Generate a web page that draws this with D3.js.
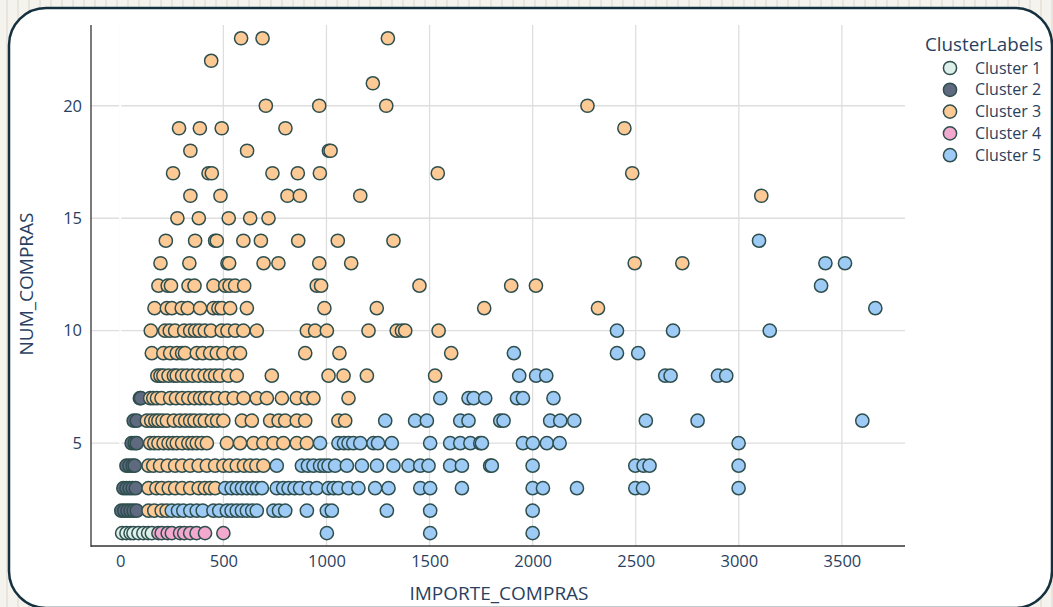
<!DOCTYPE html>
<html>
<head>
<meta charset="utf-8">
<script src="https://cdn.jsdelivr.net/npm/d3@7"></script>
<style>
html,body{margin:0;padding:0;background:#f4f1eb;}
svg{display:block;font-family:"Open Sans",sans-serif;}
</style>
</head>
<body>
<svg id="chart" width="1053" height="607"></svg>
<script>
// ---- data: [IMPORTE_COMPRAS, NUM_COMPRAS] per cluster ----
const clusterNames = ["Cluster 1","Cluster 2","Cluster 3","Cluster 4","Cluster 5"];
const clusterColors = ["#dcefe8","#5f6a80","#fdca96","#f3a9cd","#9dcbf6"];
const xTicks = [0,500,1000,1500,2000,2500,3000,3500];
const yTicks = [5,10,15,20];

const cluster1 = [[9,1],[30,1],[50,1],[64,1],[88,1],[112,1],[135,1],[153,1]];
const cluster2 = [
 [95,7],[100,7],[65,6],[80,6],[55,5],[70,5],[80,5],
 [30,4],[45,4],[60,4],[70,4],[15,3],[30,3],[45,3],[60,3],[75,3],
 [5,2],[20,2],[35,2],[50,2],[65,2],[80,2]];
const row = (y, xs) => xs.map(x => [x, y]);
const cluster3 = [].concat(
 row(23,[586,690,1298]), row(22,[441]), row(21,[1225]),
 row(20,[706,965,1290,2266]), row(19,[285,386,492,801,2445]),
 row(18,[340,615,1012,1020]), row(17,[256,428,444,738,861,968,1540,2483]),
 row(16,[340,486,811,871,1164,3109]), row(15,[277,381,526,630,719]),
 row(14,[221,363,460,468,597,682,863,1055,1325]),
 row(13,[195,335,520,528,695,767,965,1120,2495,2726]),
 row(12,[185,230,246,331,360,452,509,530,557,601,953,974,1451,1896,2016]),
 row(11,[166,226,250,298,327,387,452,476,492,533,614,990,1244,1765,2317]),
 row(10,[148,217,240,266,310,339,363,384,410,440,492,520,557,597,662,905,945,1002,1204,1341,1366,1382,1544]),
 row(9,[153,209,242,274,300,314,371,400,436,468,500,549,581,897,1063,1605]),
 row(8,[180,195,209,234,260,274,300,323,350,379,410,436,460,484,524,565,735,1010,1083,1196,1527]),
 row(7,[145,160,178,200,242,270,300,330,360,387,410,436,470,509,550,598,662,711,784,856,905,937,1107]),
 row(6,[129,150,170,185,205,226,260,290,315,339,360,387,410,444,470,500,590,638,727,768,800,856,897,1058,1091]),
 row(5,[145,165,185,210,234,255,274,300,330,350,371,395,420,517,581,646,694,743,791,856,905]),
 row(4,[137,160,193,230,266,300,339,380,420,460,500,530,565,600,630,660,694]),
 row(3,[137,175,201,235,266,300,339,380,410,436,460]),
 row(2,[137,165,201,225])
);
const cluster4 = [[185,1],[201,1],[230,1],[250,1],[290,1],[310,1],[339,1],[370,1],[411,1],[500,1]];
const cluster5 = [].concat(
 row(14,[3098]), row(13,[3420,3515]), row(12,[3399]), row(11,[3662]),
 row(10,[2409,2681,3150]), row(9,[1909,2409,2512]),
 row(8,[1935,2017,2066,2643,2669,2899,2939]),
 row(7,[1552,1689,1714,1770,1924,1953,2101]),
 row(6,[1285,1430,1487,1649,1689,1843,1859,2085,2134,2202,2549,2800,3599]),
 row(5,[969,1058,1085,1107,1130,1164,1228,1250,1317,1503,1600,1649,1698,1746,1754,1953,2001,2069,2131,2999]),
 row(4,[759,881,910,937,969,990,1010,1042,1099,1172,1245,1325,1398,1455,1495,1600,1657,1794,1802,2000,2498,2538,2567,2999]),
 row(3,[509,540,565,590,614,640,662,687,759,790,816,845,872,913,953,1010,1035,1058,1107,1155,1236,1301,1455,1503,1657,2000,2050,2215,2498,2535,2999]),
 row(2,[250,280,306,340,371,400,452,480,517,540,565,590,614,640,662,743,770,800,905,1002,1026,1293,1503,2000]),
 row(1,[1002,1503,2000])
);
const clusters = [cluster1, cluster2, cluster3, cluster4, cluster5];

// ---- drawing ----
const svg = d3.select("#chart");
const W = 1053, H = 607;
const plot = {left: 91, right: 905, top: 25, bottom: 546};
const x = d3.scaleLinear().domain([-142, 3806]).range([plot.left, plot.right]);
const y = d3.scaleLinear().domain([0.43, 23.59]).range([plot.bottom, plot.top]);
const textColor = "#2a3f5f";

// striped backdrop
const defs = svg.append("defs");
const pat = defs.append("pattern").attr("id","stripes").attr("patternUnits","userSpaceOnUse")
  .attr("width",11).attr("height",10);
pat.append("rect").attr("width",11).attr("height",10).attr("fill","#f5f3ee");
pat.append("rect").attr("x",6).attr("width",2).attr("height",10).attr("fill","#e9e5dc");
svg.append("rect").attr("width",W).attr("height",H).attr("fill","url(#stripes)");

// rounded frame
svg.append("rect").attr("x",9).attr("y",8).attr("width",1043).attr("height",600)
  .attr("rx",37).attr("ry",37).attr("fill","#ffffff")
  .attr("stroke","#15313f").attr("stroke-width",2.5);

// gridlines
const g = svg.append("g");
g.selectAll("line.vg").data(xTicks).join("line")
  .attr("x1",d=>x(d)).attr("x2",d=>x(d)).attr("y1",plot.top).attr("y2",plot.bottom)
  .attr("stroke","#dedede").attr("stroke-width",1.3);
g.selectAll("line.hg").data(yTicks).join("line")
  .attr("x1",plot.left).attr("x2",plot.right).attr("y1",d=>y(d)).attr("y2",d=>y(d))
  .attr("stroke","#dedede").attr("stroke-width",1.3);
// zero line
g.append("line").attr("x1",x(0)).attr("x2",x(0)).attr("y1",plot.top).attr("y2",plot.bottom)
  .attr("stroke","#ffffff").attr("stroke-width",2);

// axes
const xAxis = d3.axisBottom(x).tickValues(xTicks).tickSize(0).tickPadding(9).tickFormat(d3.format("d"));
const yAxis = d3.axisLeft(y).tickValues(yTicks).tickSize(0).tickPadding(9).tickFormat(d3.format("d"));
const gx = svg.append("g").attr("transform",`translate(0,${plot.bottom})`).call(xAxis);
const gy = svg.append("g").attr("transform",`translate(${plot.left},0)`).call(yAxis);
[gx,gy].forEach(a=>{
  a.select(".domain").remove();
  a.selectAll("text").attr("fill",textColor).attr("font-size",16.5).attr("font-family","Open Sans");
});
gx.selectAll("text").attr("dy","0.71em");

// points
const pts = svg.append("g");
clusters.forEach((data,i)=>{
  pts.append("g").selectAll("circle").data(data).join("circle")
    .attr("cx",d=>x(d[0])).attr("cy",d=>y(d[1])).attr("r",6.6)
    .attr("fill",clusterColors[i]).attr("stroke","#2f4f4f").attr("stroke-width",1.5);
});

// axis lines
svg.append("line").attr("x1",plot.left).attr("x2",plot.left).attr("y1",plot.top).attr("y2",plot.bottom+1)
  .attr("stroke","#333").attr("stroke-width",1.3);
svg.append("line").attr("x1",plot.left).attr("x2",plot.right).attr("y1",plot.bottom).attr("y2",plot.bottom)
  .attr("stroke","#333").attr("stroke-width",1.5);

// axis titles
svg.append("text").attr("x",(plot.left+plot.right)/2+1).attr("y",600).attr("text-anchor","middle")
  .attr("fill",textColor).attr("font-size",19).text("IMPORTE_COMPRAS");
svg.append("text").attr("transform",`translate(33,284) rotate(-90)`)
  .attr("text-anchor","middle").attr("fill",textColor).attr("font-size",19).text("NUM_COMPRAS");

// legend
const lg = svg.append("g");
lg.append("text").attr("x",925).attr("y",51).attr("fill",textColor).attr("font-size",18.8).text("ClusterLabels");
clusterNames.forEach((name,i)=>{
  const yy = 68 + i*21.8;
  lg.append("circle").attr("cx",950).attr("cy",yy).attr("r",6.6)
    .attr("fill",clusterColors[i]).attr("stroke","#2f4f4f").attr("stroke-width",1.5);
  lg.append("text").attr("x",975).attr("y",yy+5.5).attr("fill",textColor).attr("font-size",16).text(name);
});
</script>
</body>
</html>
